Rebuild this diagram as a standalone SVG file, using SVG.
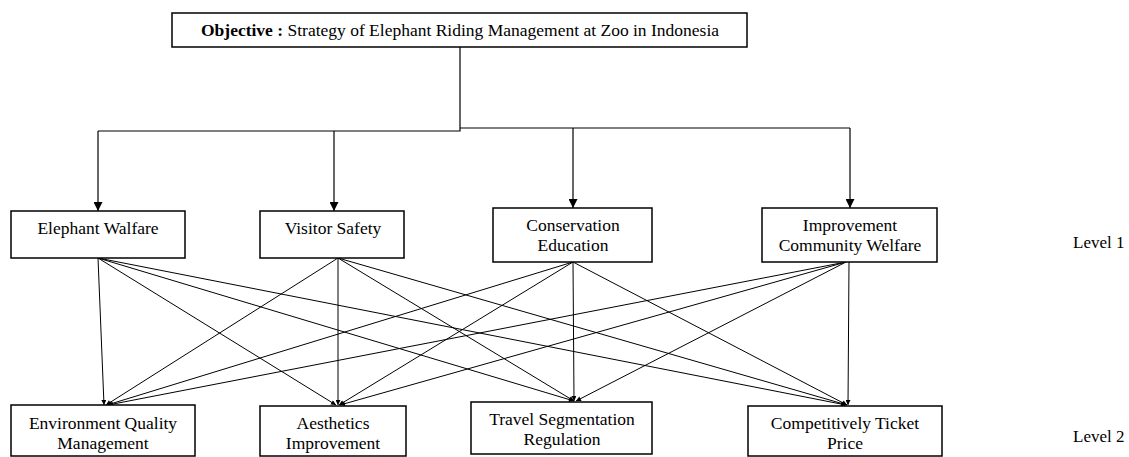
<svg xmlns="http://www.w3.org/2000/svg" width="1129" height="457" viewBox="0 0 1129 457">
<style>
.box{fill:#fff;stroke:#000;stroke-width:1.5}
.t{font-family:"Liberation Serif","Times New Roman",serif;font-size:17.5px;fill:#000;text-anchor:middle}
.lvl{font-family:"Liberation Serif","Times New Roman",serif;font-size:17px;fill:#000}
.c{fill:none;stroke:#000;stroke-width:1.2}
.d{fill:none;stroke:#000;stroke-width:1}
</style>
<defs>
<marker id="big" viewBox="0 0 10 10" refX="10" refY="5" markerUnits="userSpaceOnUse" markerWidth="11" markerHeight="9" orient="auto"><path d="M0,0 L10,5 L0,10 z" fill="#000"/></marker>
<marker id="sm" viewBox="0 0 10 10" refX="10" refY="5" markerUnits="userSpaceOnUse" markerWidth="7" markerHeight="5" orient="auto"><path d="M0,0 L10,5 L0,10 z" fill="#000"/></marker>
</defs>
<rect width="1129" height="457" fill="#fff"/>
<g id="connectors">
<path class="c" d="M460,47 V131 H98"/>
<path class="c" d="M460,128 H850"/>
<path class="c" d="M98,131 V211" marker-end="url(#big)"/>
<path class="c" d="M334,131 V211" marker-end="url(#big)"/>
<path class="c" d="M573,128 V208" marker-end="url(#big)"/>
<path class="c" d="M850,128 V208" marker-end="url(#big)"/>
<g marker-end="url(#sm)">
<line class="d" x1="98" y1="258" x2="104" y2="405"/>
<line class="d" x1="98" y1="258" x2="336" y2="405"/>
<line class="d" x1="98" y1="258" x2="574" y2="401"/>
<line class="d" x1="98" y1="258" x2="846" y2="405"/>
<line class="d" x1="338" y1="258" x2="106" y2="405"/>
<line class="d" x1="338" y1="258" x2="338" y2="405"/>
<line class="d" x1="338" y1="258" x2="574" y2="401"/>
<line class="d" x1="338" y1="258" x2="847" y2="405"/>
<line class="d" x1="573" y1="262" x2="107" y2="405"/>
<line class="d" x1="573" y1="262" x2="339" y2="405"/>
<line class="d" x1="573" y1="262" x2="574" y2="401"/>
<line class="d" x1="573" y1="262" x2="847" y2="405"/>
<line class="d" x1="846" y1="262" x2="108" y2="405"/>
<line class="d" x1="846" y1="262" x2="340" y2="405"/>
<line class="d" x1="846" y1="262" x2="576" y2="401"/>
<line class="d" x1="849" y1="262" x2="848" y2="405"/>
</g>
</g>
<g id="objective">
<rect class="box" x="172" y="13" width="575" height="34"/>
<text class="t" x="460" y="36"><tspan font-weight="bold">Objective :</tspan> Strategy of Elephant Riding Management at Zoo in Indonesia</text>
</g>
<g id="elephant-walfare">
<rect class="box" x="11" y="211" width="174" height="47"/>
<text class="t" x="98" y="234">Elephant Walfare</text>
</g>
<g id="visitor-safety">
<rect class="box" x="260" y="211" width="144" height="47"/>
<text class="t" x="333" y="234">Visitor Safety</text>
</g>
<g id="conservation-education">
<rect class="box" x="493" y="208" width="159" height="54"/>
<text class="t" x="573" y="231">Conservation</text>
<text class="t" x="573" y="251">Education</text>
</g>
<g id="improvement-community-welfare">
<rect class="box" x="762" y="208" width="175" height="54"/>
<text class="t" x="850" y="231">Improvement</text>
<text class="t" x="850" y="251">Community Welfare</text>
</g>
<g id="environment-quality-management">
<rect class="box" x="11" y="405" width="184" height="51"/>
<text class="t" x="103" y="429">Environment Quality</text>
<text class="t" x="103" y="449">Management</text>
</g>
<g id="aesthetics-improvement">
<rect class="box" x="260" y="406" width="146" height="50"/>
<text class="t" x="333" y="429">Aesthetics</text>
<text class="t" x="333" y="449">Improvement</text>
</g>
<g id="travel-segmentation-regulation">
<rect class="box" x="471" y="402" width="181" height="52"/>
<text class="t" x="562" y="425">Travel Segmentation</text>
<text class="t" x="562" y="445">Regulation</text>
</g>
<g id="competitively-ticket-price">
<rect class="box" x="748" y="406" width="194" height="50"/>
<text class="t" x="845" y="429">Competitively Ticket</text>
<text class="t" x="845" y="449">Price</text>
</g>
<g id="levels">
<text class="lvl" x="1073" y="248">Level 1</text>
<text class="lvl" x="1073" y="442">Level 2</text>
</g>
</svg>
